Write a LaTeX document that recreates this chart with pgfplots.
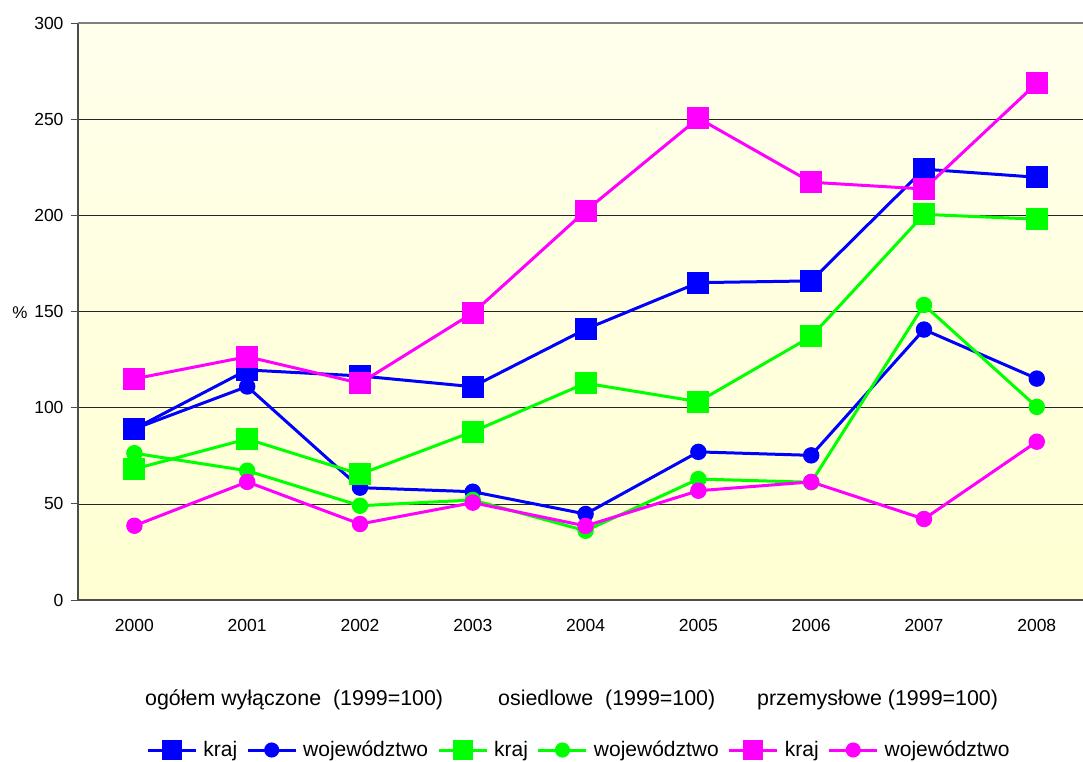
\documentclass[border=0pt]{standalone}
\usepackage{fontspec}
\setmainfont{Liberation Sans}
\usepackage{pgfplots}
\pgfplotsset{compat=1.18}
\definecolor{cBlue}{RGB}{0,0,255}
\definecolor{cGreen}{RGB}{0,255,0}
\definecolor{cMag}{RGB}{255,255,0}
\definecolor{cMag}{RGB}{255,0,255}
\definecolor{bgA}{RGB}{255,255,210}
\definecolor{bgB}{RGB}{255,255,236}
\begin{document}
\begin{tikzpicture}
\begin{axis}[
  scale only axis,
  width=1005bp, height=577bp,
  xmin=-0.5, xmax=8.41,
  ymin=0, ymax=300,
  ytick={0,50,...,300},
  xtick={0,...,8},
  xticklabels={2000,2001,2002,2003,2004,2005,2006,2007,2008},
  extra x ticks={-0.5,0.5,1.5,2.5,3.5,4.5,5.5,6.5,7.5},
  extra x tick labels={},
  extra x tick style={major tick length=7bp, tick style={black!70, line width=0.8bp}},
  x tick style={draw=none},
  major tick length=7bp,
  tick align=outside,
  y tick style={black!70, line width=0.8bp},
  axis x line*=bottom,
  axis y line*=left,
  axis line style={black!70, line width=1.2bp, -},
  ymajorgrids,
  grid style={black!85, line width=0.6bp},
  /pgf/number format/assume math mode=true,
  tick label style={font=\fontsize{17.5bp}{20bp}\selectfont},
  xticklabel style={yshift=-9bp},
  yticklabel style={xshift=-4bp},
  axis background/.style={shade, bottom color=bgA, top color=bgB},
  every axis plot/.append style={line width=3bp},
  legend columns=6,
  legend style={draw=none, fill=none, at={(0.4975,-0.26)}, anchor=center,
    font=\fontsize{21bp}{24bp}\selectfont,
    nodes={inner sep=0pt},
    /tikz/every odd column/.append style={column sep=6bp},
    /tikz/every even column/.append style={column sep=9bp},
    inner sep=0pt},
  legend image code/.code={
    \draw[mark repeat=2,mark phase=2,line width=3bp,mark options={scale=0.9}] plot coordinates {(0bp,0bp) (24bp,0bp) (48bp,0bp)};
  },
  clip=false,
]
\addplot[cBlue, mark=square*, mark size=9.5bp, mark options={solid}] coordinates {
 (0,89) (1,119.6) (2,116.5) (3,110.9) (4,140.8) (5,165) (6,165.9) (7,224) (8,219.8)};
\addlegendentry{kraj}
\addplot[cBlue, mark=*, mark size=6.7bp] coordinates {
 (0,89) (1,111) (2,58.4) (3,56.3) (4,44.7) (5,77) (6,75.2) (7,140.6) (8,115.1)};
\addlegendentry{województwo}
\addplot[cGreen, mark=square*, mark size=9.5bp] coordinates {
 (0,68.1) (1,83.7) (2,65.4) (3,87.5) (4,112.7) (5,103.1) (6,137) (7,200.5) (8,198)};
\addlegendentry{kraj}
\addplot[cGreen, mark=*, mark size=6.7bp] coordinates {
 (0,76.3) (1,67.2) (2,49) (3,52) (4,36) (5,62.9) (6,61.2) (7,153.4) (8,100.4)};
\addlegendentry{województwo}
\addplot[cMag, mark=square*, mark size=9.5bp] coordinates {
 (0,115) (1,126.5) (2,112.7) (3,149.2) (4,202.3) (5,250.5) (6,217.2) (7,213.7) (8,268.7)};
\addlegendentry{kraj}
\addplot[cMag, mark=*, mark size=6.7bp] coordinates {
 (0,38.6) (1,61.4) (2,39.5) (3,50.6) (4,38.5) (5,56.8) (6,61.4) (7,42.1) (8,82.3)};
\addlegendentry{województwo}
\draw[black!50, line width=1.4bp] (rel axis cs:0,1) -- (rel axis cs:1,1);
\coordinate (ll) at (rel axis cs:0,0);
\coordinate (ur) at (rel axis cs:1,1);
\end{axis}
\begin{scope}[font=\fontsize{21.4bp}{24bp}\selectfont]
\node[anchor=west, inner sep=0pt] at ([shift={(67bp,-100bp)}]ll) {ogółem wyłączone\ \ (1999=100)};
\node[anchor=west, inner sep=0pt] at ([shift={(420bp,-100bp)}]ll) {osiedlowe\ \ (1999=100)};
\node[anchor=west, inner sep=0pt] at ([shift={(679bp,-100bp)}]ll) {przemysłowe (1999=100)};
\end{scope}
\node[font=\fontsize{17bp}{20bp}\selectfont, inner sep=0pt] at ([shift={(-58bp,287bp)}]ll) {\%};
\pgfresetboundingbox
\path ([shift={(-78bp,-162bp)}]ll) rectangle ([shift={(0bp,23bp)}]ur);
\end{tikzpicture}
\end{document}
